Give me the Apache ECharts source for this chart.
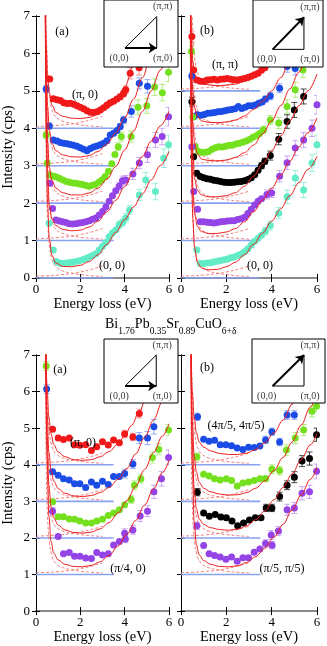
<!DOCTYPE html>
<html>
<head>
<meta charset="utf-8">
<script src="https://cdn.jsdelivr.net/npm/echarts@6/dist/echarts.min.js"></script>
<style>
html,body{margin:0;padding:0;background:#fff;}
#main{width:327px;height:646px;}
</style>
</head>
<body>
<div id="main"></div>
<script>
// ---- data: [energy (eV), intensity (cps), error] ----
// top (a): along (0,0)-(pi,0)
var tlOffsets = [4, 3, 2, 1, 0];
var tlRed = [[0.62,5.32],[0.78,4.79],[0.95,4.76],[1.1,4.74],[1.25,4.68],[1.4,4.66],[1.55,4.67],[1.7,4.64],[1.85,4.6],[2.0,4.56],[2.15,4.52],[2.3,4.47],[2.45,4.43],[2.6,4.42],[2.75,4.44],[2.9,4.49],[3.05,4.55],[3.2,4.62],[3.35,4.68],[3.5,4.72],[3.65,4.78],[3.8,4.84,0.08],[3.95,4.92,0.08],[4.05,5.03,0.1],[4.25,5.47,0.15],[4.65,5.62,0.2]];
var tlBlue = [[0.46,5.05,0.1],[0.6,4.06,0.08],[0.78,3.69],[0.95,3.66],[1.1,3.62],[1.25,3.6],[1.4,3.59],[1.55,3.57],[1.7,3.55],[1.85,3.52],[2.0,3.48],[2.15,3.44],[2.3,3.4],[2.45,3.46],[2.6,3.5],[2.75,3.53],[2.9,3.56],[3.05,3.6],[3.2,3.67],[3.35,3.82],[3.5,3.87],[3.65,3.94],[3.8,4.05,0.08],[3.95,4.22,0.1],[4.3,4.45,0.15],[4.66,5.2,0.15],[5.03,5.12,0.18]];
var tlGreen = [[0.46,3.82,0.1],[0.51,3.07],[0.63,2.75],[0.78,2.72],[0.92,2.7],[1.07,2.66],[1.22,2.62],[1.37,2.58],[1.51,2.56],[1.66,2.54],[1.81,2.53],[1.96,2.51],[2.1,2.5],[2.25,2.47],[2.39,2.45],[2.54,2.48],[2.68,2.5],[2.83,2.56],[2.97,2.62],[3.12,2.71],[3.27,2.85],[3.42,3.05],[3.56,3.3],[3.71,3.51,0.1],[3.85,3.78,0.12],[4.29,3.78,0.15],[4.6,4.56,0.2],[5.0,4.6,0.2],[5.35,5.1,0.22],[5.7,4.95,0.22],[5.98,5.5,0.25]];
var tlPurple = [[0.63,2.53],[0.75,1.86],[0.9,1.55],[1.05,1.52],[1.2,1.5],[1.35,1.48],[1.5,1.45],[1.65,1.44],[1.8,1.45],[1.95,1.47],[2.1,1.48],[2.25,1.5],[2.4,1.53],[2.55,1.57],[2.7,1.6],[2.85,1.68],[3.0,1.78],[3.15,1.9],[3.3,2.05],[3.45,2.2],[3.6,2.33],[3.75,2.45,0.1],[3.9,2.6,0.12],[4.05,2.62,0.12],[4.37,2.78,0.15],[4.66,3.07,0.15],[5.03,3.29,0.2],[5.39,3.69,0.2],[5.69,3.78,0.22],[5.98,4.31,0.25]];
var tlCyan = [[0.59,1.46],[0.78,0.75],[0.92,0.44],[1.05,0.4],[1.2,0.39],[1.35,0.4],[1.5,0.41],[1.65,0.42],[1.8,0.44],[1.95,0.46],[2.1,0.49],[2.25,0.52],[2.4,0.56],[2.55,0.6],[2.7,0.65],[2.85,0.75],[3.0,0.85],[3.15,0.95],[3.3,1.1],[3.45,1.2],[3.6,1.28],[3.75,1.42,0.1],[3.9,1.48,0.1],[4.05,1.6,0.12],[4.22,1.82,0.12],[4.66,2.22,0.15],[4.95,2.62,0.2],[5.39,2.31,0.22],[5.76,3.2,0.25],[5.98,3.56,0.25]];
var tlRedFit = [[0.42,7.2],[0.46,6.2],[0.52,5.45],[0.6,4.95],[0.72,4.62],[0.9,4.42],[1.2,4.32],[1.6,4.27],[2.0,4.26],[2.4,4.29],[2.8,4.37],[3.2,4.52],[3.6,4.75],[4.0,5.1],[4.4,5.68],[4.8,6.5],[5.1,7.2]];
var tlBlueFit = [[0.42,7.2],[0.46,5.6],[0.52,4.6],[0.6,3.95],[0.72,3.6],[0.9,3.4],[1.2,3.29],[1.6,3.24],[2.0,3.23],[2.4,3.27],[2.8,3.38],[3.2,3.58],[3.6,3.88],[4.0,4.28],[4.4,4.78],[4.8,5.35],[5.2,6.0],[5.6,6.65],[5.9,7.2]];
var tlGreenFit = [[0.42,7.2],[0.46,5.0],[0.52,3.7],[0.6,2.95],[0.72,2.6],[0.9,2.4],[1.2,2.28],[1.6,2.22],[2.0,2.22],[2.4,2.27],[2.8,2.4],[3.2,2.64],[3.6,2.98],[4.0,3.42],[4.4,3.92],[4.8,4.45],[5.2,5.0],[5.6,5.55],[6.0,6.1]];
var tlPurpleFit = [[0.42,7.2],[0.46,4.5],[0.52,2.9],[0.6,1.95],[0.72,1.58],[0.9,1.4],[1.2,1.3],[1.6,1.26],[2.0,1.28],[2.4,1.36],[2.8,1.52],[3.2,1.77],[3.6,2.08],[4.0,2.44],[4.4,2.84],[4.8,3.25],[5.2,3.66],[5.6,4.06],[6.0,4.45]];
var tlCyanFit = [[0.42,7.2],[0.46,3.8],[0.52,2.0],[0.6,1.05],[0.72,0.6],[0.9,0.4],[1.2,0.31],[1.6,0.3],[2.0,0.34],[2.4,0.44],[2.8,0.62],[3.2,0.9],[3.6,1.22],[4.0,1.56],[4.4,1.9],[4.8,2.25],[5.2,2.62],[5.6,3.0],[6.0,3.38]];

// top (b): along (0,0)-(pi,pi)
var trOffsets = [5, 4, 3, 2, 1, 0];
var trRed = [[0.48,6.45,0.15],[0.56,5.56],[0.7,5.29],[0.85,5.26],[1.0,5.25],[1.15,5.29],[1.3,5.3],[1.45,5.31],[1.6,5.29],[1.75,5.31],[1.9,5.32],[2.05,5.33],[2.2,5.31],[2.35,5.3],[2.5,5.29],[2.65,5.31],[2.8,5.33],[2.95,5.36],[3.1,5.39],[3.25,5.43],[3.4,5.47],[3.55,5.55],[3.7,5.62]];
var trBlue = [[0.48,5.4,0.1],[0.56,4.31],[0.72,4.36],[0.88,4.35],[1.03,4.37],[1.18,4.4],[1.33,4.41],[1.48,4.42],[1.63,4.44],[1.78,4.45],[1.93,4.47],[2.08,4.49],[2.23,4.5],[2.38,4.52],[2.53,4.58],[2.68,4.53],[2.83,4.56],[2.98,4.6],[3.13,4.6],[3.28,4.62],[3.43,4.67],[3.58,4.7],[3.73,4.78,0.08],[3.94,4.86,0.1],[4.35,5.07,0.12],[4.68,5.65,0.15],[5.04,5.6,0.18]];
var trGreen = [[0.46,6.05,0.15],[0.52,4.3],[0.63,3.51],[0.78,3.38],[0.93,3.35],[1.08,3.36],[1.22,3.38],[1.37,3.44],[1.52,3.48],[1.67,3.51],[1.82,3.5],[1.97,3.52],[2.12,3.55],[2.27,3.55],[2.42,3.58],[2.57,3.6],[2.72,3.63],[2.87,3.66],[3.02,3.7],[3.17,3.76],[3.32,3.8],[3.47,3.86],[3.64,3.96,0.1],[3.94,4.22,0.12],[4.31,4.14,0.15],[4.68,4.58,0.18],[5.04,5.03,0.2],[5.38,5.56,0.2]];
var trBlack = [[0.48,4.71,0.12],[0.56,3.24],[0.7,2.8],[0.85,2.71],[1.0,2.68],[1.15,2.65],[1.3,2.64],[1.45,2.61],[1.6,2.6],[1.75,2.58],[1.9,2.56],[2.05,2.55],[2.2,2.55],[2.35,2.56],[2.5,2.57],[2.65,2.58],[2.8,2.6],[2.95,2.63],[3.1,2.68],[3.25,2.76],[3.4,2.88],[3.55,3.0,0.08],[3.7,3.12,0.08],[3.94,3.27,0.12],[4.31,3.71,0.15],[4.68,4.18,0.18],[5.0,4.49,0.2],[5.41,4.85,0.2]];
var trPurple = [[0.48,3.51],[0.56,2.31],[0.73,1.84],[0.85,1.5],[1.0,1.5],[1.15,1.49],[1.3,1.48],[1.45,1.47],[1.6,1.48],[1.75,1.5],[1.9,1.51],[2.05,1.52],[2.2,1.53],[2.35,1.53],[2.5,1.56],[2.65,1.58],[2.8,1.62],[2.95,1.72],[3.1,1.84],[3.25,1.95],[3.4,2.05],[3.55,2.12],[3.79,2.23,0.12],[4.0,2.27,0.12],[4.35,2.72,0.15],[4.68,3.08,0.18],[5.04,3.47,0.2],[5.41,3.69,0.2],[5.78,4.0,0.22],[6.0,4.63,0.25]];
var trCyan = [[0.7,0.75],[0.85,0.39],[1.0,0.39],[1.15,0.4],[1.3,0.41],[1.45,0.43],[1.6,0.45],[1.75,0.47],[1.9,0.49],[2.05,0.51],[2.2,0.54],[2.35,0.56],[2.5,0.6],[2.65,0.64],[2.8,0.7],[2.95,0.78],[3.1,0.88],[3.25,0.98],[3.4,1.06],[3.55,1.14],[3.72,1.25,0.1],[3.94,1.4,0.12],[4.31,1.73,0.15],[4.68,2.17,0.18],[5.04,2.67,0.2],[5.41,2.35,0.2],[5.78,3.07,0.22],[6.0,3.56,0.25]];
var trRedFit = [[0.42,7.2],[0.46,6.4],[0.52,5.8],[0.6,5.45],[0.72,5.28],[0.9,5.2],[1.2,5.16],[1.6,5.14],[2.0,5.15],[2.4,5.18],[2.8,5.26],[3.2,5.4],[3.6,5.62],[4.0,5.92],[4.4,6.35],[4.8,6.9],[5.0,7.2]];
var trBlueFit = [[0.42,7.2],[0.46,5.8],[0.52,5.0],[0.6,4.55],[0.72,4.32],[0.9,4.2],[1.2,4.16],[1.6,4.15],[2.0,4.17],[2.4,4.22],[2.8,4.33],[3.2,4.5],[3.6,4.72],[4.0,5.0],[4.4,5.35],[4.8,5.8],[5.2,6.35],[5.6,6.95],[5.7,7.1]];
var trGreenFit = [[0.42,7.2],[0.46,5.2],[0.52,4.1],[0.6,3.6],[0.72,3.32],[0.9,3.18],[1.2,3.14],[1.6,3.13],[2.0,3.15],[2.4,3.22],[2.8,3.35],[3.2,3.55],[3.6,3.85],[4.0,4.2],[4.4,4.6],[4.8,5.05],[5.2,5.5],[5.6,6.0],[6.0,6.5]];
var trBlackFit = [[0.42,7.2],[0.46,4.6],[0.52,3.3],[0.6,2.65],[0.72,2.35],[0.9,2.22],[1.2,2.17],[1.6,2.17],[2.0,2.2],[2.4,2.28],[2.8,2.45],[3.2,2.72],[3.6,3.05],[4.0,3.4],[4.4,3.8],[4.8,4.2],[5.2,4.6],[5.6,5.0],[6.0,5.45]];
var trPurpleFit = [[0.42,7.2],[0.46,3.8],[0.52,2.4],[0.6,1.7],[0.72,1.38],[0.9,1.24],[1.2,1.19],[1.6,1.19],[2.0,1.23],[2.4,1.32],[2.8,1.5],[3.2,1.77],[3.6,2.08],[4.0,2.4],[4.4,2.75],[4.8,3.12],[5.2,3.5],[5.6,3.88],[6.0,4.28]];
var trCyanFit = [[0.42,7.2],[0.46,3.2],[0.52,1.6],[0.6,0.8],[0.72,0.42],[0.9,0.27],[1.2,0.22],[1.6,0.23],[2.0,0.3],[2.4,0.42],[2.8,0.62],[3.2,0.9],[3.6,1.2],[4.0,1.52],[4.4,1.85],[4.8,2.2],[5.2,2.55],[5.6,2.9],[6.0,3.25]];

// bottom (a)
var blOffsets = [4, 3, 2, 1];
var blRed = [[0.75,4.97],[1.0,4.73],[1.24,4.69],[1.5,4.73],[1.74,4.55],[1.98,4.53],[2.24,4.55],[2.5,4.39],[2.74,4.49],[3.0,4.63],[3.26,4.54],[3.5,4.68],[3.76,4.6],[4.0,4.84,0.1],[4.37,4.76,0.1],[4.66,5.4,0.12]];
var blBlue = [[0.48,6.07,0.12],[0.75,3.81],[1.0,3.71],[1.24,3.62],[1.5,3.58],[1.74,3.48],[1.98,3.48],[2.24,3.38],[2.5,3.53],[2.74,3.44],[3.0,3.55],[3.26,3.46],[3.5,3.68],[3.76,3.68],[4.0,3.76,0.12],[4.37,4.02,0.12],[4.66,4.73,0.15],[5.03,4.73,0.18],[5.32,5.04,0.2]];
var blGreen = [[0.46,6.7,0.12],[0.75,2.99],[1.0,2.58],[1.24,2.58],[1.5,2.52],[1.74,2.51],[1.98,2.46],[2.24,2.41],[2.5,2.41],[2.74,2.46],[3.0,2.51],[3.26,2.61],[3.5,2.68],[3.76,2.77],[4.0,2.91],[4.29,3.05,0.1],[4.44,3.44,0.12],[4.73,3.62,0.12],[5.25,4.2,0.15],[5.54,4.42,0.15],[5.98,4.95,0.15]];
var blPurple = [[0.75,2.73,0.1],[1.0,2.04],[1.24,1.57],[1.5,1.6],[1.74,1.5],[1.98,1.5],[2.24,1.45],[2.5,1.44],[2.74,1.6],[3.0,1.53],[3.26,1.57],[3.5,1.81],[3.76,1.9],[4.0,2.13,0.12],[4.03,1.97,0.1],[4.37,2.22,0.12],[4.7,2.6,0.15],[5.03,2.73,0.15],[5.32,3.26,0.18],[5.66,3.62,0.2],[5.98,4.2,0.2]];
var blRedFit = [[0.44,7.2],[0.5,6.1],[0.58,5.3],[0.68,4.85],[0.8,4.55],[1.0,4.35],[1.3,4.22],[1.7,4.14],[2.1,4.12],[2.5,4.14],[2.9,4.22],[3.3,4.36],[3.7,4.57],[4.0,4.79],[4.3,5.07],[4.66,5.45],[5.0,5.88],[5.4,6.45],[5.8,7.05]];
var blBlueFit = [[0.44,7.2],[0.5,5.4],[0.58,4.35],[0.68,3.85],[0.8,3.55],[1.0,3.35],[1.3,3.22],[1.7,3.15],[2.1,3.13],[2.5,3.16],[2.9,3.24],[3.3,3.38],[3.7,3.6],[4.1,3.9],[4.5,4.3],[4.9,4.75],[5.3,5.22],[5.7,5.72],[6.0,6.1]];
var blGreenFit = [[0.44,7.2],[0.5,4.8],[0.58,3.45],[0.68,2.85],[0.8,2.55],[1.0,2.35],[1.3,2.22],[1.7,2.15],[2.1,2.13],[2.5,2.16],[2.9,2.25],[3.3,2.42],[3.7,2.68],[4.1,3.02],[4.5,3.42],[4.9,3.87],[5.3,4.33],[5.7,4.78],[6.0,5.12]];
var blPurpleFit = [[0.44,7.2],[0.5,4.2],[0.58,2.6],[0.68,1.9],[0.8,1.58],[1.0,1.4],[1.3,1.28],[1.7,1.22],[2.1,1.21],[2.5,1.25],[2.9,1.35],[3.3,1.52],[3.7,1.78],[4.1,2.1],[4.5,2.48],[4.9,2.9],[5.3,3.34],[5.7,3.78],[6.0,4.12]];

// bottom (b)
var brOffsets = [4, 3, 2, 1];
var brBlue = [[0.73,5.31,0.1],[1.0,4.7],[1.24,4.64],[1.48,4.67],[1.73,4.55],[1.98,4.55],[2.23,4.52],[2.48,4.46],[2.73,4.42],[2.98,4.48],[3.23,4.47],[3.48,4.51],[3.73,4.68,0.1],[4.01,4.9,0.1],[4.35,4.62,0.1],[4.68,5.36,0.12],[5.0,5.36,0.12]];
var brGreen = [[0.7,4.22,0.1],[1.0,3.74],[1.24,3.69],[1.48,3.62],[1.73,3.58],[2.0,3.62],[2.23,3.57],[2.48,3.42],[2.73,3.5],[2.98,3.53],[3.23,3.57],[3.48,3.62],[3.73,3.62,0.08],[4.01,3.88,0.12],[4.35,3.84,0.12],[4.65,4.4,0.15],[5.04,4.73,0.15],[5.41,4.95,0.15],[5.78,5.46,0.15],[5.98,5.6,0.15]];
var brBlack = [[0.72,3.25,0.1],[1.0,2.68],[1.25,2.59],[1.51,2.64],[1.76,2.57],[2.0,2.55],[2.25,2.46],[2.5,2.33],[2.76,2.41],[3.02,2.49],[3.28,2.55],[3.53,2.55],[3.76,2.82,0.1],[4.01,2.82,0.1],[4.35,3.13,0.12],[4.68,3.44,0.12],[5.0,3.66,0.15],[5.34,4.1,0.15],[5.67,4.17,0.18],[5.98,4.82,0.18]];
var brPurple = [[0.7,2.33,0.1],[1.0,1.79],[1.24,1.57],[1.48,1.52],[1.73,1.48],[1.98,1.42],[2.23,1.48],[2.48,1.36],[2.73,1.46],[2.98,1.46],[3.23,1.61],[3.48,1.7],[3.73,1.85,0.1],[3.98,2.08,0.12],[4.02,1.8,0.1],[4.3,2.19,0.12],[4.68,2.77,0.15],[5.0,2.82,0.15],[5.34,3.22,0.18],[5.67,3.26,0.18],[5.98,3.82,0.2]];
var brBlueFit = [[0.44,7.2],[0.5,6.0],[0.58,5.3],[0.68,4.88],[0.8,4.62],[1.0,4.48],[1.3,4.38],[1.7,4.31],[2.1,4.28],[2.5,4.28],[2.9,4.32],[3.3,4.42],[3.7,4.6],[4.1,4.87],[4.5,5.22],[4.9,5.65],[5.3,6.15],[5.7,6.7],[6.0,7.12]];
var brGreenFit = [[0.44,7.2],[0.5,5.2],[0.58,4.25],[0.68,3.8],[0.8,3.52],[1.0,3.36],[1.3,3.26],[1.7,3.2],[2.1,3.17],[2.5,3.18],[2.9,3.24],[3.3,3.36],[3.7,3.56],[4.1,3.84],[4.5,4.2],[4.9,4.62],[5.3,5.08],[5.7,5.57],[6.0,5.95]];
var brBlackFit = [[0.44,7.2],[0.5,4.6],[0.58,3.35],[0.68,2.8],[0.8,2.52],[1.0,2.37],[1.3,2.28],[1.7,2.23],[2.1,2.21],[2.5,2.24],[2.9,2.33],[3.3,2.5],[3.7,2.74],[4.1,3.04],[4.5,3.38],[4.9,3.75],[5.3,4.14],[5.7,4.54],[6.0,4.85]];
var brPurpleFit = [[0.44,7.2],[0.5,4.0],[0.58,2.45],[0.68,1.82],[0.8,1.54],[1.0,1.38],[1.3,1.28],[1.7,1.22],[2.1,1.21],[2.5,1.24],[2.9,1.33],[3.3,1.49],[3.7,1.72],[4.1,2.02],[4.5,2.37],[4.9,2.76],[5.3,3.17],[5.7,3.6],[6.0,3.92]];

// fit components (dashed), above each spectrum's offset line
var tailShape = [[0.42,6.5],[0.46,3.0],[0.52,1.6],[0.6,0.9],[0.72,0.5],[0.9,0.3],[1.2,0.19],[1.6,0.13],[2.0,0.09],[2.5,0.06],[3.0,0.04]];
var riseShape = [[0,0.05],[0.5,0.06],[1.0,0.08],[1.5,0.11],[2.0,0.16],[2.5,0.23],[3.0,0.32]];
var offsetLineEnd = 3.5;

// Brillouin-zone insets
var bzTriangle = [[0,0],[1,0],[1,1],[0,0]];
var bzCorners = [[0,0],[1,0],[1,1]];
var bzLabels = ['(0,0)', '(π,0)', '(π,π)'];

var titleText = '{n|Bi}{s|1.76}{n|Pb}{s|0.35}{n|Sr}{s|0.89}{n|CuO}{s|6+δ}';
</script>
<script>
var chart = echarts.init(document.getElementById('main'));
var SERIF = '"Liberation Serif","DejaVu Serif",serif';

var pointColor = {red:'#f01818', blue:'#1c4ce6', green:'#74e01e', purple:'#9343e6', cyan:'#62ecc6', black:'#000000'};
var barColor = {red:'rgba(240,70,70,0.55)', blue:'rgba(70,110,240,0.55)', green:'rgba(130,225,50,0.6)', purple:'rgba(165,100,235,0.55)', cyan:'rgba(100,235,200,0.65)', black:'rgba(0,0,0,0.7)'};

var mainGrids = [
  {left:32, top:16, width:137, height:262},
  {left:181, top:16, width:136, height:262},
  {left:32, top:355, width:137, height:262},
  {left:181, top:355, width:136, height:262}
];
var insetGrids = [
  {left:104, top:0, width:74, height:67, x:[-0.66,1.67], y:[-0.61,1.53], arrow:[1,0]},
  {left:253, top:0, width:70, height:67, x:[-0.63,1.61], y:[-0.55,1.54], arrow:[1,1]},
  {left:104, top:339, width:74, height:64, x:[-0.68,1.7], y:[-0.55,1.52], arrow:[1,0]},
  {left:252, top:339, width:73, height:64, x:[-0.66,1.67], y:[-0.55,1.52], arrow:[1,1]}
];

var panels = [
  {offs: tlOffsets, sets: [[tlRed,tlRedFit,'red'],[tlBlue,tlBlueFit,'blue'],[tlGreen,tlGreenFit,'green'],[tlPurple,tlPurpleFit,'purple'],[tlCyan,tlCyanFit,'cyan']]},
  {offs: trOffsets, sets: [[trRed,trRedFit,'red'],[trBlue,trBlueFit,'blue'],[trGreen,trGreenFit,'green'],[trBlack,trBlackFit,'black'],[trPurple,trPurpleFit,'purple'],[trCyan,trCyanFit,'cyan']]},
  {offs: blOffsets, sets: [[blRed,blRedFit,'red'],[blBlue,blBlueFit,'blue'],[blGreen,blGreenFit,'green'],[blPurple,blPurpleFit,'purple']]},
  {offs: brOffsets, sets: [[brBlue,brBlueFit,'blue'],[brGreen,brGreenFit,'green'],[brBlack,brBlackFit,'black'],[brPurple,brPurpleFit,'purple']]}
];

var grid = [], xAxis = [], yAxis = [], series = [];

mainGrids.forEach(function(g, i){
  grid.push({left:g.left, top:g.top, width:g.width, height:g.height, show:false});
  var leftPanel = (i % 2 === 0);
  var tickStyle = {show:true, inside:true, length:4, lineStyle:{color:'#000'}};
  xAxis.push({gridIndex:i, type:'value', min:0, max:6, interval:2, position:'bottom',
    axisLine:{lineStyle:{color:'#000', width:1}}, axisTick:tickStyle, splitLine:{show:false},
    axisLabel:{color:'#000', fontFamily:SERIF, fontSize:13, margin:5},
    name:'Energy loss (eV)', nameLocation:'middle', nameGap:15,
    nameTextStyle:{color:'#000', fontFamily:SERIF, fontSize:14.5}});
  xAxis.push({gridIndex:i, type:'value', min:0, max:6, interval:2, position:'top',
    axisLine:{lineStyle:{color:'#8a8a8a', width:2}}, axisTick:tickStyle, splitLine:{show:false},
    axisLabel:{show:false}});
  yAxis.push({gridIndex:i, type:'value', min:0, max:7, interval:1, position:'left',
    axisLine:{show:true, lineStyle:{color:'#000', width:1}}, axisTick:tickStyle, splitLine:{show:false},
    axisLabel:{show:leftPanel, color:'#000', fontFamily:SERIF, fontSize:13, margin:6},
    name: leftPanel ? 'Intensity (cps)' : '', nameLocation:'middle', nameGap:20,
    nameTextStyle:{color:'#000', fontFamily:SERIF, fontSize:14.5}});
  yAxis.push({gridIndex:i, type:'value', min:0, max:7, interval:1, position:'right',
    axisLine:{show:true, lineStyle:{color:'#000', width:1}}, axisTick:tickStyle, splitLine:{show:false},
    axisLabel:{show:false}});
});

insetGrids.forEach(function(g, j){
  var gi = 4 + j;
  grid.push({left:g.left, top:g.top, width:g.width, height:g.height, show:true,
    backgroundColor:'#fff', borderColor:'#000', borderWidth:1, z:10});
  xAxis.push({gridIndex:gi, type:'value', min:g.x[0], max:g.x[1], show:false});
  yAxis.push({gridIndex:gi, type:'value', min:g.y[0], max:g.y[1], show:false});
});

function errorBars(color){
  return function(params, api){
    var x = api.value(0), y = api.value(1), e = api.value(2);
    var a = api.coord([x, y + e]), b = api.coord([x, y - e]);
    var st = {stroke: color, lineWidth: 1};
    return {type:'group', children:[
      {type:'line', shape:{x1:a[0], y1:a[1], x2:b[0], y2:b[1]}, style:st},
      {type:'line', shape:{x1:a[0]-3, y1:a[1], x2:a[0]+3, y2:a[1]}, style:st},
      {type:'line', shape:{x1:b[0]-3, y1:b[1], x2:b[0]+3, y2:b[1]}, style:st}
    ]};
  };
}

panels.forEach(function(p, i){
  var ax = {xAxisIndex: 2*i, yAxisIndex: 2*i};
  p.sets.forEach(function(s, k){
    var pts = s[0], fit = s[1], col = s[2], off = p.offs[k];
    series.push(Object.assign({type:'line', data:[[0,off],[offsetLineEnd,off]], symbol:'none', silent:true,
      lineStyle:{color:'#86a2f0', width:1.6}, z:1}, ax));
    series.push(Object.assign({type:'line', data: tailShape.map(function(q){ return [q[0], q[1] + off]; }),
      symbol:'none', smooth:0.4, silent:true, lineStyle:{color:'#f07070', width:0.9, type:[3,2]}, z:2}, ax));
    series.push(Object.assign({type:'line', data: riseShape.map(function(q){ return [q[0], q[1] + off]; }),
      symbol:'none', smooth:0.4, silent:true, lineStyle:{color:'#f07070', width:0.9, type:[3,2]}, z:2}, ax));
    series.push(Object.assign({type:'custom', data: pts.filter(function(q){ return q.length > 2; }),
      renderItem: errorBars(barColor[col]), silent:true, clip:true, z:3}, ax));
    series.push(Object.assign({type:'scatter', data: pts, symbolSize:7, silent:true,
      itemStyle:{color: pointColor[col], opacity:1}, z:4}, ax));
    series.push(Object.assign({type:'line', data: fit, symbol:'none', smooth:0.35, smoothMonotone:'x', silent:true,
      lineStyle:{color:'#ec2020', width:1}, z:5}, ax));
  });
});

insetGrids.forEach(function(g, j){
  var ax = {xAxisIndex: 8 + j, yAxisIndex: 8 + j};
  series.push(Object.assign({type:'line', data: bzTriangle, symbol:'none', silent:true,
    lineStyle:{color:'#000', width:1}, z:12}, ax));
  series.push(Object.assign({type:'lines', coordinateSystem:'cartesian2d', silent:true,
    data:[{coords:[bzCorners[0], g.arrow]}], symbol:['none','arrow'], symbolSize:8,
    lineStyle:{color:'#000', width:2, opacity:1}, z:13}, ax));
  var labelPos = [{position:'bottom', offset:[-6,0]}, {position:'bottom', offset:[6,0]}, {position:'top', offset:[6,0]}];
  series.push(Object.assign({type:'scatter', silent:true, symbolSize:2, itemStyle:{color:'rgba(0,0,0,0)'}, z:14,
    data: bzCorners.map(function(c, n){
      return {value:c, label:Object.assign({show:true, formatter: bzLabels[n], color:'#000',
        fontFamily:SERIF, fontSize:10, distance:4}, labelPos[n])};
    })}, ax));
});

var annotations = [
  ['(a)', 62, 32], ['(π, 0)', 85, 95], ['(0, 0)', 112, 266],
  ['(b)', 207, 31], ['(π, π)', 225, 65], ['(0, 0)', 260, 266],
  ['(a)', 60, 370], ['(π, 0)', 83, 443], ['(π/4, 0)', 128, 569],
  ['(b)', 207, 368], ['(4π/5, 4π/5)', 236, 426], ['(π/5, π/5)', 282, 569]
];

var option = {
  backgroundColor:'#fff',
  animation:false,
  title:{text:titleText, left:100, top:312,
    textStyle:{fontFamily:SERIF, fontWeight:'normal', color:'#000',
      rich:{n:{fontFamily:SERIF, fontSize:14, color:'#000', verticalAlign:'top', padding:[0,0,5,0]},
            s:{fontFamily:SERIF, fontSize:9.5, color:'#000', verticalAlign:'bottom'}}}},
  grid:grid, xAxis:xAxis, yAxis:yAxis, series:series,
  graphic: annotations.map(function(a){
    return {type:'text', x:a[1], y:a[2], z:20, silent:true,
      style:{text:a[0], fill:'#000', font:'12px ' + SERIF, textAlign:'center', textVerticalAlign:'middle'}};
  })
};
chart.setOption(option);
</script>
</body>
</html>
